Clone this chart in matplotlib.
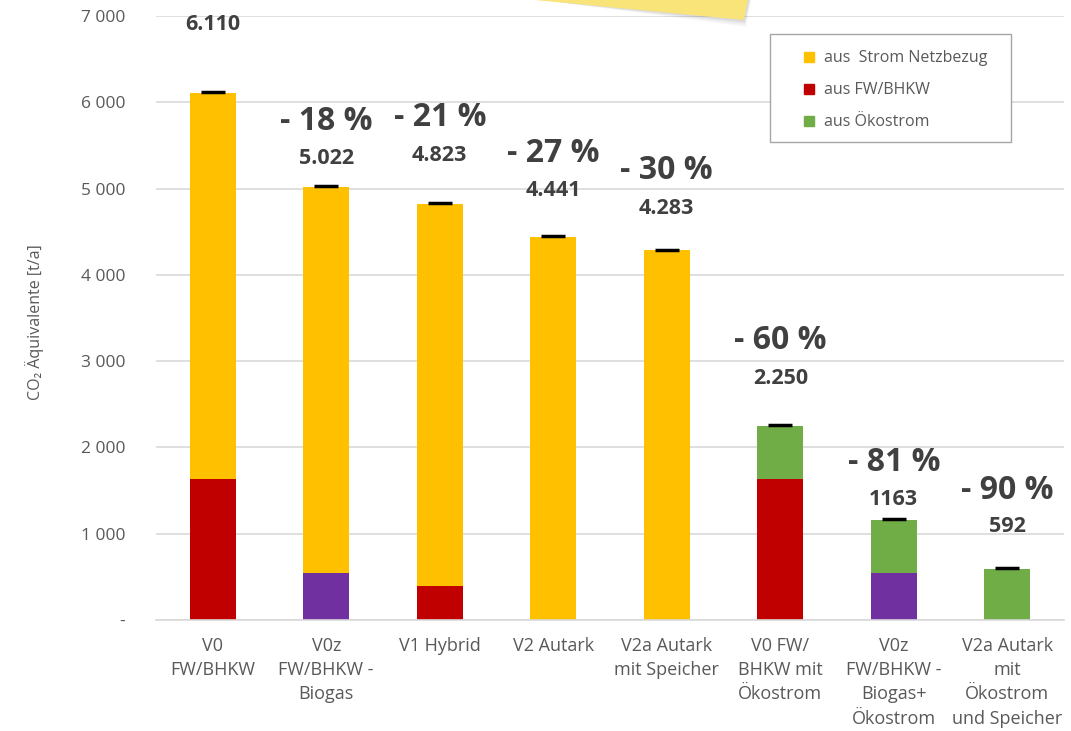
import matplotlib
matplotlib.use("Agg")
import matplotlib.pyplot as plt
from matplotlib.patches import Polygon, Rectangle, Patch
import numpy as np

plt.rcParams['font.family'] = ['Open Sans', 'DejaVu Sans']

# Data
categories = ["V0\nFW/BHKW", "V0z\nFW/BHKW -\nBiogas", "V1 Hybrid", "V2 Autark",
              "V2a Autark\nmit Speicher", "V0 FW/\nBHKW mit\nÖkostrom",
              "V0z\nFW/BHKW -\nBiogas+\nÖkostrom", "V2a Autark\nmit\nÖkostrom\nund Speicher"]
fw_bhkw = [1630, 0, 395, 0, 0, 1630, 0, 0]
biogas = [0, 545, 0, 0, 0, 0, 545, 0]
netzbezug = [4480, 4477, 4428, 4441, 4283, 0, 0, 0]
oekostrom = [0, 0, 0, 0, 0, 620, 618, 592]
value_labels = ["6.110", "5.022", "4.823", "4.441", "4.283", "2.250", "1163", "592"]
pct_labels = ["", "- 18 %", "- 21 %", "- 27 %", "- 30 %", "- 60 %", "- 81 %", "- 90 %"]
yticks = [0, 1000, 2000, 3000, 4000, 5000, 6000, 7000]
ytick_labels = ["-", "1 000", "2 000", "3 000", "4 000", "5 000", "6 000", "7 000"]

# label placement (data units)
val_y = [6900, 5353, 5388, 4983, 4774, 2804, 1402, 1078]
pct_y = [0, 5782, 5829, 5411, 5214, 3244, 1831, 1506]

YELLOW = "#ffc000"
RED = "#c00000"
GREEN = "#70ad47"
PURPLE = "#7030a0"
GRAY = "#595959"
DARK = "#404040"

W, H = 1071, 731
fig = plt.figure(figsize=(W / 100, H / 100), dpi=100)
ax = fig.add_axes([156 / W, 1 - 620 / H, (1064 - 156) / W, (620 - 16) / H])

x = np.arange(len(categories))
width = 0.405
bottom = np.zeros(len(categories))
for vals, col in [(fw_bhkw, RED), (biogas, PURPLE), (netzbezug, YELLOW), (oekostrom, GREEN)]:
    ax.bar(x, vals, width, bottom=bottom, color=col, zorder=2)
    bottom += np.array(vals)

totals = bottom
ax.plot(x, totals + 8, ls="none", marker="_", ms=17, mew=2.5, color="black", zorder=3)

for i in range(len(categories)):
    ax.text(x[i], val_y[i], value_labels[i], ha="center", va="center",
            fontsize=15.5, fontweight="bold", color=DARK)
    if pct_labels[i]:
        ax.text(x[i], pct_y[i], pct_labels[i], ha="center", va="center",
                fontsize=23, fontweight="bold", color=DARK)

ax.set_xlim(-0.5, len(categories) - 0.5)
ax.set_ylim(0, 7000)
ax.set_yticks(yticks)
ax.set_yticklabels(ytick_labels)
ax.set_xticks(x)
ax.set_xticklabels(categories, linespacing=1.45)
ax.tick_params(axis="x", length=0, pad=12, labelsize=13, labelcolor=GRAY)
ax.tick_params(axis="y", length=0, pad=22, labelsize=12.5, labelcolor=GRAY)
ax.grid(axis="y", color="#d9d9d9", lw=1.2, zorder=0)
for s in ["top", "right", "left"]:
    ax.spines[s].set_visible(False)
ax.spines["bottom"].set_color("#d9d9d9")
ax.spines["bottom"].set_linewidth(1.2)

fig.text(35 / W, 1 - 322 / H, "CO₂ Äquivalente [t/a]", rotation=90, ha="center",
         va="center", fontsize=11.5, color=GRAY)

# legend box
fig.add_artist(Rectangle((770 / W, 1 - 142 / H), 241 / W, 108 / H, transform=fig.transFigure,
                         facecolor="white", edgecolor="#a6a6a6", lw=1, zorder=5))
handles = [Patch(color=YELLOW), Patch(color=RED), Patch(color=GREEN)]
leg = fig.legend(handles, ["aus  Strom Netzbezug", "aus FW/BHKW", "aus Ökostrom"],
                 loc="upper left", bbox_to_anchor=(790 / W, 1 - 36 / H), frameon=False,
                 handlelength=0.6, handleheight=0.6, handletextpad=0.6, labelspacing=1.0,
                 fontsize=11.5, labelcolor=GRAY)
leg.set_zorder(6)

# sticky note at the top
def px(pts):
    return [(a / W, 1 - b / H) for a, b in pts]

for k, a in enumerate([0.03, 0.04, 0.05, 0.07]):
    off = 7 - k * 1.7
    fig.add_artist(Polygon(px([(560, 2.4), (744 + off * 0.3, 20 + off),
                               (750 + off * 0.3, -5), (560, -5)]),
                           transform=fig.transFigure, facecolor="#303040", alpha=a,
                           edgecolor="none", zorder=7))
fig.add_artist(Polygon(px([(520, -5), (749, -5), (744, 20), (535, 0)]),
                       transform=fig.transFigure, facecolor="#f9e479", edgecolor="none",
                       zorder=8))

fig.savefig("out.png", dpi=100)
